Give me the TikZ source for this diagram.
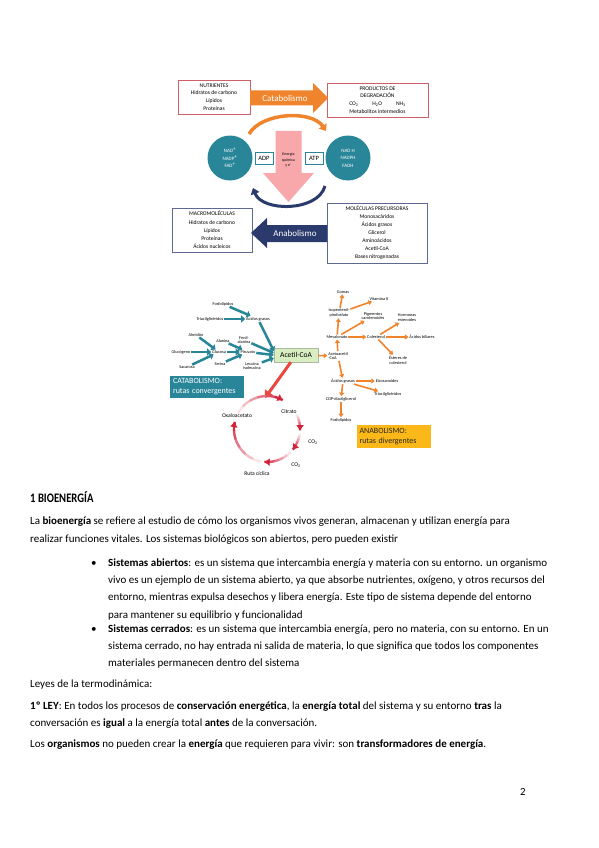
\documentclass[tikz,border=0pt]{standalone}
\usepackage{fontspec}
\setmainfont{Carlito}
\newfontfamily\headfont[FakeStretch=0.82]{Carlito}
\usetikzlibrary{arrows.meta,positioning}
\definecolor{catorange}{RGB}{240,132,44}
\definecolor{boxred}{RGB}{206,96,106}
\definecolor{navyarr}{RGB}{42,58,108}
\definecolor{boxnavy}{RGB}{92,106,146}
\definecolor{tealc}{RGB}{40,134,152}
\definecolor{pinkarr}{RGB}{248,168,170}
\definecolor{acgreen}{RGB}{216,238,192}
\definecolor{anayellow}{RGB}{251,184,24}
\definecolor{redarr}{RGB}{234,72,62}
\definecolor{cycred}{RGB}{212,34,58}
\tikzset {
  txt/.style = {anchor=base west, inner sep=0pt, font=\fontsize{11}{13}\selectfont},
  boxtxt/.style = {draw, line width=0.8pt, fill=white, align=center, inner sep=1pt,
    font=\fontsize{5.6}{7.6}\selectfont},
  lbl/.style = {align=center, inner sep=0.8pt, font=\fontsize{4.3}{4.9}\selectfont},
  cyclbl/.style = {inner sep=0.5pt, font=\fontsize{5.6}{6}\selectfont},
  circ/.style = {circle, fill=tealc, minimum size=45pt, inner sep=0pt, text=white,
    align=center, font=\fontsize{5}{7.4}\selectfont},
  tagbox/.style = {draw=tealc, line width=0.9pt, fill=white, minimum width=18pt,
    minimum height=12pt, inner sep=0pt, font=\fontsize{6.5}{7}\selectfont},
  legend/.style = {align=left, text width=68pt, inner sep=3pt, minimum height=22pt,
    font=\fontsize{8}{10}\selectfont},
  tealarr/.style = {draw=tealc, line width=2.5pt, -{Triangle[length=4pt,width=7pt]}},
  orarr/.style = {draw=catorange, line width=1.6pt, -{Triangle[length=3.5pt,width=5pt]}},
  cyc/.style = {line width=2.4pt}
}

\begin{document}
\begin{tikzpicture}[x=1pt, y=-1pt]

\fill[white] (0,0) rectangle (599,848);
\useasboundingbox (0,0) rectangle (599,848);

% --- Metabolism overview ---
\node[boxtxt, draw=boxred, minimum width=72pt, minimum height=34pt] (nutr) at (214,97)
  {NUTRIENTES\\Hidratos de carbono\\Lípidos\\Proteínas};
\node[boxtxt, draw=boxred, minimum width=101pt, minimum height=34pt] (prod) at (377.5,100)
  {PRODUCTOS DE\\DEGRADACIÓN\\CO\textsubscript{2}\hspace{14pt}H\textsubscript{2}O\hspace{14pt}NH\textsubscript{3}\\Metabolitos intermedios};

\fill[catorange] (250,90.5) -- (313,90.5) -- (313,83) -- (328,98) -- (313,113)
  -- (313,105.5) -- (250,105.5) -- cycle;
\node[text=white, font=\fontsize{9}{10}\selectfont] (catlbl) at (285,98) {Catabolismo};

\draw[catorange, line width=3.5pt, -{Triangle[length=6pt,width=9pt]}]
  (249,134) .. controls (262,112) and (312,110) .. (326,131);

\fill[pinkarr] (275.5,131) -- (301.5,131) -- (301.5,173) -- (314,173) -- (288.5,202)
  -- (263,173) -- (275.5,173) -- cycle;
\node[lbl, font=\fontsize{4}{5.6}\selectfont] (energ) at (288.5,160) {Energía\\química\\y e\textsuperscript{-}};

\node[circ] (oxid) at (230,158) {NAD\textsuperscript{+}\\NADP\textsuperscript{+}\\FAD\textsuperscript{+}};
\node[circ] (redu) at (348,158) {NAD H\\NADPH\\FADH};
\node[tagbox] (adp) at (264,158.5) {ADP};
\node[tagbox] (atp) at (314,158.5) {ATP};

\draw[navyarr, line width=3pt, -{Triangle[length=6pt,width=9pt]}]
  (325,186) .. controls (318,212) and (262,212) .. (253,188);

\node[boxtxt, draw=boxnavy, minimum width=80pt, minimum height=44pt,
  font=\fontsize{5.6}{8.2}\selectfont] (macro) at (212,230)
  {MACROMOLÉCULAS\\Hidratos de carbono\\Lípidos\\Proteínas\\Ácidos nucleicos};
\node[boxtxt, draw=boxnavy, minimum width=100pt, minimum height=60pt,
  font=\fontsize{5.6}{8}\selectfont] (prec) at (377,233)
  {MOLÉCULAS PRECURSORAS\\Monosacáridos\\Ácidos grasos\\Glicerol\\Aminoácidos\\Acetil-CoA\\Bases nitrogenadas};

\fill[navyarr] (251,233) -- (267,218) -- (267,225) -- (327,225) -- (327,242)
  -- (267,242) -- (267,248) -- cycle;
\node[text=white, font=\fontsize{9}{10}\selectfont] (analbl) at (295,233.5) {Anabolismo};

% --- Catabolism: convergent routes ---
\node[draw=acgreen!70!black!80, fill=acgreen, minimum width=44pt, minimum height=14pt,
  inner sep=1pt, font=\fontsize{7.5}{8}\selectfont] (acoa) at (296,355) {Acetil-CoA};

\node[lbl] (fosfo) at (223,304) {Fosfolípidos};
\node[lbl] (triac) at (210,319) {Triacilglicéridos};
\node[lbl] (acgr) at (258,319) {Ácidos grasos};
\node[lbl] (almid) at (196,335) {Almidón};
\node[lbl] (alan) at (223,341) {Alanina};
\node[lbl] (fenil) at (244,340) {Fenil-\\alanina};
\node[lbl] (glucog) at (181,352) {Glucógeno};
\node[lbl] (gluc) at (219,352) {Glucosa};
\node[lbl] (piruv) at (248,352) {Piruvato};
\node[lbl] (sacar) at (187,367) {Sacarosa};
\node[lbl] (serin) at (220,364) {Serina};
\node[lbl] (leuc) at (252,366) {Leucina\\Isoleucina};

\draw[tealarr] (fosfo) -- (acgr);
\draw[tealarr] (triac) -- (acgr);
\draw[tealarr] (acgr) -- ([yshift=4pt]acoa.west);
\draw[tealarr] (almid) -- (gluc);
\draw[tealarr] (glucog) -- (gluc);
\draw[tealarr] (sacar) -- (gluc);
\draw[tealarr] (gluc) -- (piruv);
\draw[tealarr] (alan) -- (piruv);
\draw[tealarr] (serin) -- (piruv);
\draw[tealarr] (fenil) -- ([yshift=2pt]acoa.west);
\draw[tealarr] (piruv) -- (acoa.west);
\draw[tealarr] (leuc) -- ([yshift=-3pt]acoa.west);

\node[legend, fill=tealc, text=white] (catleg) at (207,387) {CATABOLISMO:\\rutas convergentes};

% --- Cyclic route ---
\coordinate (cycin) at (265,398);
\draw[redarr, line width=3pt, -{Triangle[length=7pt,width=10pt]}] (acoa) -- (cycin);

\foreach \s/\e in {-152/-62, -26/2, 8/38, 44/94, 100/192} {
  \foreach \k in {0,...,5} {
    \pgfmathsetmacro\a{\s+(\e-\s)*\k/6}
    \pgfmathsetmacro\b{\s+(\e-\s)*(\k+1)/6+0.5}
    \pgfmathtruncatemacro\p{12+17*\k}
    \draw[cyc, draw=cycred!\p] plot[domain=\a:\b, samples=5] ({267+33*cos(\x)}, {429+33*sin(\x)});
  }
  \draw[cyc, draw=cycred, -{Triangle[length=5pt,width=7pt]}]
    plot[domain=\e-2:\e, samples=2] ({267+33*cos(\x)}, {429+33*sin(\x)});
}

\node[cyclbl, fill=white] (oxal) at (237,416) {Oxaloacetato};
\node[cyclbl] (citr) at (289,412) {Citrato};
\node[cyclbl] (co2a) at (313,442) {CO\textsubscript{2}};
\node[cyclbl] (co2b) at (296,465) {CO\textsubscript{2}};
\node[cyclbl] (ruta) at (257,474) {Ruta cíclica};

% --- Anabolism: divergent routes ---
\node[lbl] (gomas) at (343,292) {Gomas};
\node[lbl] (vitk) at (379,299) {Vitamina K};
\node[lbl] (isop) at (339,313) {Isopentenil-\\pirofosfato};
\node[lbl] (pigm) at (373,316) {Pigmentos\\carotenoides};
\node[lbl] (hormo) at (407,318) {Hormonas\\esteroides};
\node[lbl] (meval) at (337,337) {Mevalonato};
\node[lbl] (coles) at (376,337) {Colesterol};
\node[lbl] (acbil) at (422,337) {Ácidos biliares};
\node[lbl] (ester) at (398,360) {Ésteres de\\colesterol};
\node[lbl, align=left] (acac) at (338,356) {Acetoacetil\\-CoA};
\node[lbl] (acgr2) at (343,381) {Ácidos grasos};
\node[lbl] (eicos) at (387,381) {Eicosanoides};
\node[lbl] (triac2) at (388,394) {Triacilglicéridos};
\node[lbl] (cdp) at (341,399) {CDP-diacilglicerol};
\node[lbl] (fosfo2) at (341,420) {Fosfolípidos};

\draw[orarr] (acoa) -- (acac);
\draw[orarr] (acac) -- (meval);
\draw[orarr] (meval) -- (isop);
\draw[orarr] (isop) -- (gomas);
\draw[orarr] (isop) -- (vitk);
\draw[orarr] (meval) -- (coles);
\draw[orarr] (meval) -- (pigm);
\draw[orarr] (coles) -- (hormo);
\draw[orarr] (coles) -- (acbil);
\draw[orarr] (coles) -- (ester);
\draw[orarr] (acac) -- (acgr2);
\draw[orarr] (acgr2) -- (eicos);
\draw[orarr] (acgr2) -- (triac2);
\draw[orarr] (acgr2) -- (cdp);
\draw[orarr] (cdp) -- (fosfo2);

\node[legend, fill=anayellow, text=black!85] (analeg) at (393.5,436.5) {ANABOLISMO:\\rutas divergentes};

% --- Text ---
\node[txt, font=\headfont\bfseries\fontsize{13}{15}\selectfont] (head) at (30,502) {1 BIOENERGÍA};
\node[txt] (l1) at (30,524) {La \textbf{bioenergía} se refiere al estudio de cómo los organismos vivos generan, almacenan y utilizan energía para};
\node[txt] (l2) at (30,542) {realizar funciones vitales. Los sistemas biológicos son abiertos, pero pueden existir};
\node[txt] (dot1) at (91,566) {\textbullet};
\node[txt] (b1a) at (108,566) {\textbf{Sistemas abiertos}: es un sistema que intercambia energía y materia con su entorno. un organismo};
\node[txt] (b1b) at (108,583) {vivo es un ejemplo de un sistema abierto, ya que absorbe nutrientes, oxígeno, y otros recursos del};
\node[txt] (b1c) at (108,600) {entorno, mientras expulsa desechos y libera energía. Este tipo de sistema depende del entorno};
\node[txt] (b1d) at (108,618) {para mantener su equilibrio y funcionalidad};
\node[txt] (dot2) at (91,632) {\textbullet};
\node[txt] (b2a) at (108,632) {\textbf{Sistemas cerrados}: es un sistema que intercambia energía, pero no materia, con su entorno. En un};
\node[txt] (b2b) at (108,649) {sistema cerrado, no hay entrada ni salida de materia, lo que significa que todos los componentes};
\node[txt] (b2c) at (108,666) {materiales permanecen dentro del sistema};
\node[txt] (leyes) at (30,687) {Leyes de la termodinámica:};
\node[txt] (ley1a) at (30,709) {\textbf{1º LEY}: En todos los procesos de \textbf{conservación energética}, la \textbf{energía total} del sistema y su entorno \textbf{tras} la};
\node[txt] (ley1b) at (30,726) {conversación es \textbf{igual} a la energía total \textbf{antes} de la conversación.};
\node[txt] (orgs) at (30,747) {Los \textbf{organismos} no pueden crear la \textbf{energía} que requieren para vivir: son \textbf{transformadores de energía}.};
\node[txt] (pnum) at (520,795) {2};

\end{tikzpicture}
\end{document}
